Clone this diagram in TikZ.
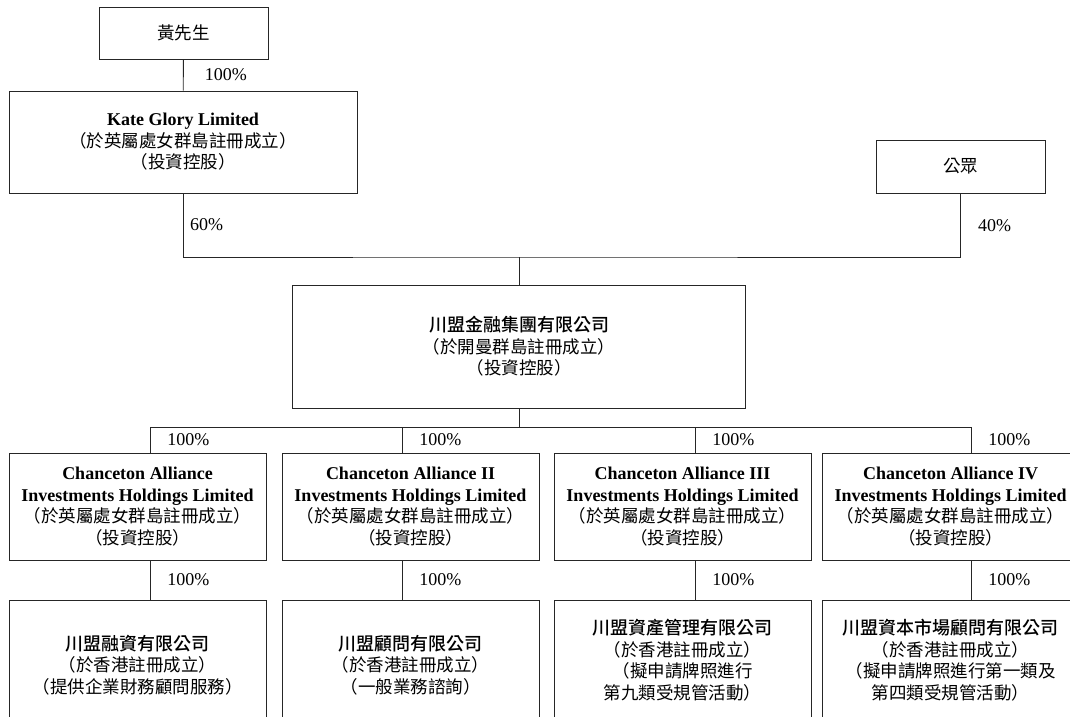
\documentclass[tikz,border=0pt]{standalone}
\usepackage{fontspec}
\setmainfont{Liberation Serif}
\newfontfamily\cjk{Noto Sans CJK TC}
\newfontfamily\cjkm{Noto Sans CJK TC Medium}
\usetikzlibrary{positioning}

\newcommand{\zh}[1]{{\cjk\fontsize{17.5}{21.5}\selectfont #1}}
\newcommand{\zhb}[1]{{\cjkm\fontsize{18}{21.5}\selectfont #1}}

\tikzset{
  box/.style={draw=black!85, line width=0.9pt, align=center, inner sep=0pt,
    font=\fontsize{18}{21.5}\selectfont},
  link/.style={draw=black!85, line width=0.9pt},
  pct/.style={font=\fontsize{18}{21}\selectfont, inner sep=0pt}
}

\begin{document}
\begin{tikzpicture}[x=1pt, y=-1pt]

\clip (0,0) rectangle (1070,716);

% top owners
\node[box, minimum width=169pt, minimum height=52pt] (mrwong) at (183.5,33) {\zh{黃先生}};
\node[box, minimum width=348pt, minimum height=102pt] (kate) at (183,142)
  {\textbf{Kate Glory Limited}\\ \zh{（於英屬處女群島註冊成立）}\\ \zh{（投資控股）}};
\node[box, minimum width=169pt, minimum height=53pt] (public) at (960.5,166.5) {\zh{公眾}};

% listed company
\node[box, minimum width=453pt, minimum height=123pt] (group) at (519,346.5)
  {\zhb{川盟金融集團有限公司}\\ \zh{（於開曼群島註冊成立）}\\ \zh{（投資控股）}};

\draw[link] (mrwong) -- (kate) node[pct, midway, right=21pt] {100\%};

\coordinate (j1) at (519,257);
\draw[link] (kate.south) |- (j1) -| (public.south);
\draw[link] (j1) -- (group.north);
\node[pct, anchor=west] (p60) at (190,225) {60\%};
\node[pct, anchor=west] (p40) at (978,226) {40\%};

% BVI holding companies
\foreach \n/\cx/\rn in {1/137.5/{},2/410.5/{ II},3/682.5/{ III},4/950.5/{ IV}}
  \node[box, minimum width=257pt, minimum height=107pt] (ca\n) at (\cx,506.5)
    {\textbf{Chanceton Alliance\rn}\\ \textbf{Investments Holdings Limited}\\
     \zh{（於英屬處女群島註冊成立）}\\ \zh{（投資控股）}};

% Hong Kong subsidiaries
\node[box, minimum width=257pt, minimum height=130pt] (sub1) at (137.5,665)
  {\zhb{川盟融資有限公司}\\ \zh{（於香港註冊成立）}\\ \zh{（提供企業財務顧問服務）}};
\node[box, minimum width=257pt, minimum height=130pt] (sub2) at (410.5,665)
  {\zhb{川盟顧問有限公司}\\ \zh{（於香港註冊成立）}\\ \zh{（一般業務諮詢）}};
\node[box, minimum width=257pt, minimum height=120pt] (sub3) at (682.5,660)
  {\zhb{川盟資產管理有限公司}\\ \zh{（於香港註冊成立）}\\ \zh{（擬申請牌照進行}\\ \zh{第九類受規管活動）}};
\node[box, minimum width=257pt, minimum height=120pt] (sub4) at (950.5,660)
  {\zhb{川盟資本市場顧問有限公司}\\ \zh{（於香港註冊成立）}\\ \zh{（擬申請牌照進行第一類及}\\ \zh{第四類受規管活動）}};

\coordinate (j2) at (519,427);
\draw[link] (group.south) -- (j2);
\foreach \n/\lx in {1/150,2/402,3/695,4/971} {
  \coordinate (t\n) at (\lx,427);
  \draw[link] (t\n) -- (t\n |- ca\n.north) node[pct, midway, right=17pt] {100\%};
  \draw[link] (t\n |- ca\n.south) -- (t\n |- sub\n.north) node[pct, midway, right=17pt] {100\%};
}
\draw[link] (t1) -- (t4);

\end{tikzpicture}
\end{document}
